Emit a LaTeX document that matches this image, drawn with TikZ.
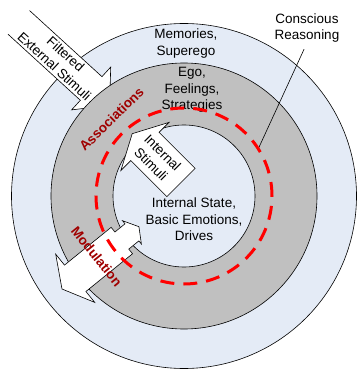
\documentclass[tikz,border=0pt]{standalone}
\usepackage{fontspec}
\setmainfont{Liberation Sans}
\definecolor{ringblue}{RGB}{228,235,246}
\definecolor{ringgray}{RGB}{192,192,192}
\definecolor{dred}{RGB}{160,0,0}
\tikzset{
  lbl/.style={font=\fontsize{13.5}{16.5}\selectfont,align=center,inner sep=0pt},
  redlbl/.style={font=\fontsize{13.5}{16}\selectfont\bfseries,text=dred,inner sep=0pt},
  blockarrow/.style={fill=white,draw=black,line join=miter}
}

\begin{document}
\begin{tikzpicture}[x=1pt,y=1pt,line width=0.6pt]
  \useasboundingbox (-184,-173) rectangle (174,196);
  \fill[ringblue,draw=black] (0,0) circle (172.5);
  \begin{scope}[shift={(-165.2,173.6)},rotate=-42.4]
    \fill[white] (0,16) -- (98,16) -- (98,29) -- (123,0) -- (98,-29) -- (98,-16) -- (0,-16) -- cycle;
    \draw (0,16) -- (98,16) -- (98,29) -- (123,0) -- (98,-29) -- (98,-16) -- (0,-16);
    \node[lbl,rotate=-42.4] (extstim) at (56,0) {Filtered\\External Stimuli};
  \end{scope}
  \fill[ringgray,draw=black] (0,0) circle (133);
  \fill[ringblue,draw=black] (0,0) circle (71);
  \begin{scope}[shift={(-3,13.5)},rotate=135]
    \draw[blockarrow] (0,20) -- (51,20) -- (51,34) -- (69,0) -- (51,-34) -- (51,-20) -- (0,-20) -- cycle;
    \node[lbl,rotate=-45] (intstim) at (34,0) {Internal\\Stimuli};
  \end{scope}
  \begin{scope}[shift={(-122,-93)},rotate=39]
    \draw[blockarrow] (0,0) -- (17,31) -- (17,17) -- (77,17) -- (77,11) -- (90,11) -- (90,15) -- (99,0)
      -- (90,-15) -- (90,-11) -- (77,-11) -- (77,-17) -- (17,-17) -- (17,-31) -- cycle;
  \end{scope}
  \node[redlbl,rotate=-51] (modul) at (-87.3,-60.7) {Modulation};
  \node[redlbl,rotate=44.5] (assoc) at (-72.5,77) {Associations};
  \node[lbl] (memories) at (2,152.5) {Memories,\\Superego};
  \node[lbl] (ego) at (8,106) {Ego,\\Feelings,\\Strategies};
  \node[lbl] (state) at (10,-23.5) {Internal State,\\Basic Emotions,\\Drives};
  \node[lbl] (reasoning) at (123,168) {Conscious\\Reasoning};
  \coordinate (onring) at (32:87);
  \draw[shorten <=7pt] (reasoning.south) -- (onring);
  \draw[red,line width=3pt,dash pattern=on 14pt off 9pt] (0,0) circle (88);
\end{tikzpicture}
\end{document}
